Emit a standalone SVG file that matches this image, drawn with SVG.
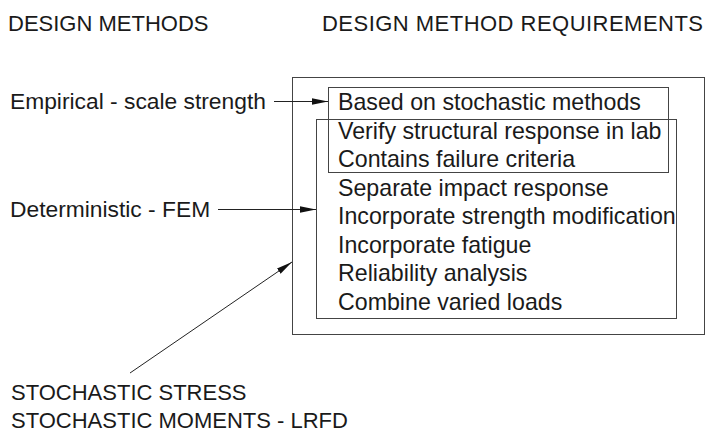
<svg xmlns="http://www.w3.org/2000/svg" width="712" height="432" viewBox="0 0 712 432">
<style>
text{font-family:"Liberation Sans",Arial,sans-serif;fill:#1a1a1a}
.h{font-size:22px}
.t{font-size:23.2px}
.l{font-size:22.8px}
.box{fill:none;stroke:#444;stroke-width:1}
.ln{fill:none;stroke:#222;stroke-width:1}
</style>
<defs>
<marker id="ah" markerWidth="16" markerHeight="8" refX="16" refY="4" orient="auto" markerUnits="userSpaceOnUse">
<path d="M0,0.8 L16,4 L0,7.2 Z" fill="#111"/>
</marker>
</defs>
<rect width="712" height="432" fill="#fff"/>
<g id="hdr-methods"><text class="h" x="8" y="31">DESIGN METHODS</text></g>
<g id="hdr-req"><text class="h" x="322" y="31" textLength="381">DESIGN METHOD REQUIREMENTS</text></g>
<g id="n-empirical"><text class="l" x="10" y="109">Empirical - scale strength</text></g>
<g id="n-deterministic"><text class="l" x="10" y="217">Deterministic - FEM</text></g>
<g id="n-stochastic">
<text class="h" x="11" y="400">STOCHASTIC STRESS</text>
<text class="h" x="11" y="428">STOCHASTIC MOMENTS - LRFD</text>
</g>
<g id="n-outer"><rect class="box" x="292.5" y="77.5" width="412" height="257"/></g>
<g id="n-inner1"><rect class="box" x="328.5" y="87.5" width="340" height="85"/></g>
<g id="n-inner2"><rect class="box" x="316.5" y="119.5" width="360" height="199"/></g>
<g id="reqs">
<text class="t" x="338" y="110">Based on stochastic methods</text>
<text class="t" x="338" y="139">Verify structural response in lab</text>
<text class="t" x="338" y="167">Contains failure criteria</text>
<text class="t" x="338" y="196">Separate impact response</text>
<text class="t" x="338" y="224">Incorporate strength modification</text>
<text class="t" x="338" y="253">Incorporate fatigue</text>
<text class="t" x="338" y="281">Reliability analysis</text>
<text class="t" x="338" y="310">Combine varied loads</text>
</g>
<g id="connectors">
<line class="ln" x1="274" y1="101.5" x2="328" y2="101.5" marker-end="url(#ah)"/>
<line class="ln" x1="218" y1="209.5" x2="316" y2="209.5" marker-end="url(#ah)"/>
<line class="ln" x1="130" y1="373" x2="292" y2="262" marker-end="url(#ah)"/>
</g>
</svg>
